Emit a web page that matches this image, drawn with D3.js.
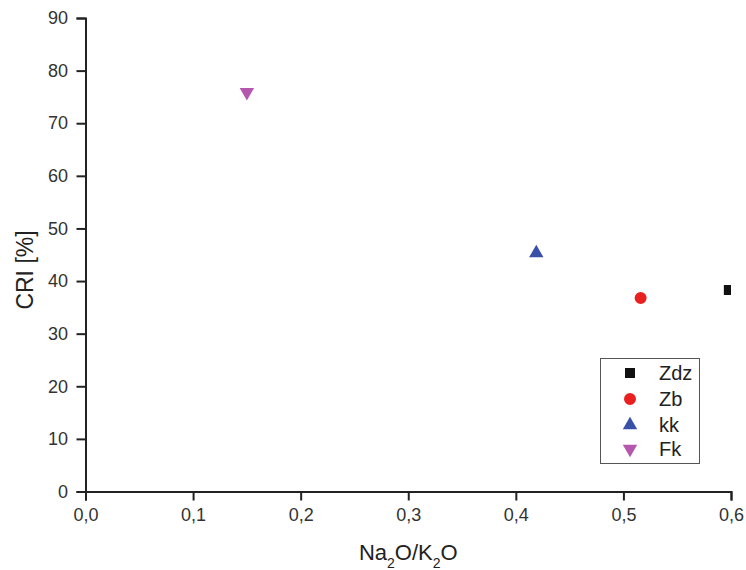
<!DOCTYPE html>
<html><head><meta charset="utf-8">
<script src="https://cdn.jsdelivr.net/npm/d3@7/dist/d3.min.js"></script>
<style>body{margin:0;background:#fff}svg{display:block}text{font-family:"Liberation Sans",Arial,sans-serif}</style>
</head><body><svg id="c" width="746" height="570"></svg>
<script>
const series = ["Zdz","Zb","kk","Fk"];
const xValues = [0.598, 0.516, 0.419, 0.150];
const yValues = [38.3, 36.8, 45.3, 75.9];
const colors = ["#111111","#e8201f","#3a50a8","#b457ad"];
const shapes = ["square","circle","triangle","triangleDown"];
const xTicks = [0,0.1,0.2,0.3,0.4,0.5,0.6];
const yTicks = [0,10,20,30,40,50,60,70,80,90];

const svg = d3.select("#c");
const L=85.5, R=731, T=18, B=491.5;
const x = d3.scaleLinear().domain([0,0.6]).range([L,R]);
const y = d3.scaleLinear().domain([0,90]).range([B,T]);

svg.append("defs").append("clipPath").attr("id","clip").append("rect")
  .attr("x",L).attr("y",T-10).attr("width",R-L).attr("height",B-T+10);

function sym(s){
  if(s==="square") return d3.symbol(d3.symbolSquare, 100)();
  if(s==="circle") return d3.symbol(d3.symbolCircle, 113)();
  return d3.symbol(d3.symbolTriangle, 90)();
}

const fmt = d => d3.format(".1f")(d).replace(".",",");
const xAxis = svg.append("g").attr("transform",`translate(0,${B})`)
  .call(d3.axisBottom(x).tickValues(xTicks).tickFormat(fmt).tickSizeOuter(0).tickSize(9).tickPadding(8));
const yAxis = svg.append("g").attr("transform",`translate(${L},0)`)
  .call(d3.axisLeft(y).tickValues(yTicks).tickSizeOuter(0).tickSize(9).tickPadding(8.5));
[xAxis,yAxis].forEach(g=>{
  g.select(".domain").attr("stroke","#222").attr("stroke-width",2);
  g.selectAll(".tick line").attr("stroke","#222").attr("stroke-width",2);
  g.selectAll(".tick text").attr("fill","#333").attr("font-size",18);
});

const pts = svg.append("g").attr("clip-path","url(#clip)");
series.forEach((s,i)=>{
  pts.append("path").attr("d",sym(shapes[i]))
    .attr("transform",`translate(${x(xValues[i])},${y(yValues[i])})${shapes[i]==="triangleDown"?" rotate(180)":""}`)
    .attr("fill",colors[i]);
});

// legend
const lg = svg.append("g");
lg.append("rect").attr("x",600.5).attr("y",358.5).attr("width",99).attr("height",105)
  .attr("fill","#fff").attr("stroke","#555").attr("stroke-width",1);
const ly = [373,399,425,449];
series.forEach((s,i)=>{
  lg.append("path").attr("d",sym(shapes[i]))
    .attr("transform",`translate(630,${ly[i]})${shapes[i]==="triangleDown"?" rotate(180)":""}`)
    .attr("fill",colors[i]);
  lg.append("text").attr("x",659).attr("y",ly[i]+7).attr("font-size",20).attr("fill","#222").text(s);
});

// axis titles
svg.append("text").attr("transform",`translate(33,270) rotate(-90)`)
  .attr("text-anchor","middle").attr("font-size",23).attr("fill","#222").text("CRI [%]");
const xt = svg.append("text").attr("x",(L+R)/2).attr("y",560).attr("text-anchor","middle")
  .attr("font-size",22).attr("fill","#222");
xt.append("tspan").text("Na");
xt.append("tspan").attr("font-size",14).attr("dy",8).text("2");
xt.append("tspan").attr("dy",-8).text("O/K");
xt.append("tspan").attr("font-size",14).attr("dy",8).text("2");
xt.append("tspan").attr("dy",-8).text("O");
</script></body></html>
